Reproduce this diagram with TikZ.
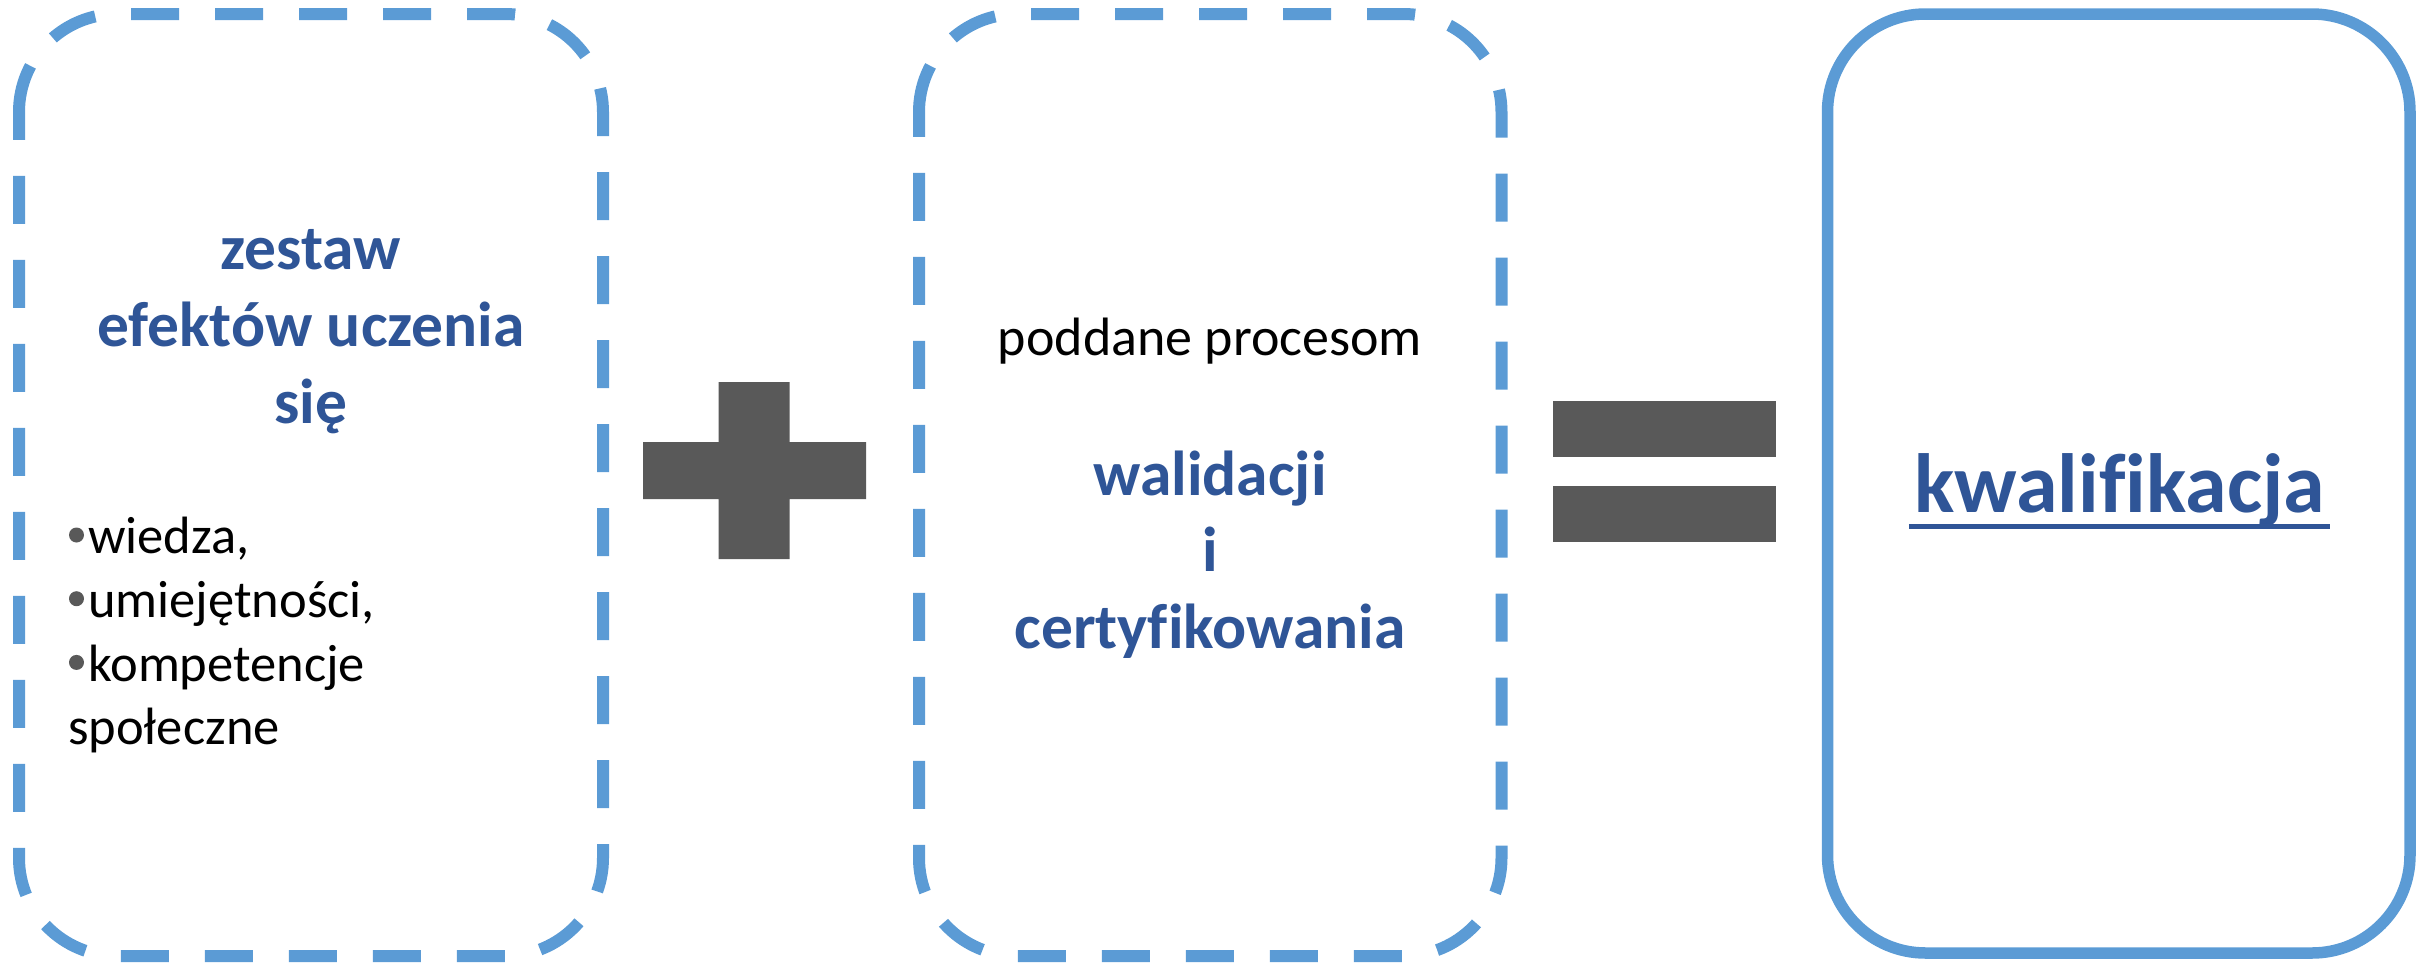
\documentclass[tikz,border=0pt]{standalone}
\usepackage{fontspec}
\setmainfont{Carlito}[Ligatures=NoCommon]
\definecolor{boxblue}{HTML}{5B9BD5}
\definecolor{tblue}{HTML}{2F5597}
\definecolor{signgray}{HTML}{595959}
\begin{document}
\begin{tikzpicture}[x=1pt,y=-1pt,
  dbox/.style={draw=boxblue, line width=12pt, dash pattern=on 48pt off 36pt, dash phase=0pt},
  sbox/.style={draw=boxblue, line width=11.5pt},
  ttl/.style={inner sep=0pt, anchor=base, text=tblue, font=\fontsize{63.5}{63.5}\selectfont\bfseries},
  big/.style={inner sep=0pt, anchor=base, text=tblue, font=\fontsize{84}{84}\selectfont\bfseries},
  lst/.style={inner sep=0pt, anchor=base west, text=black, font=\fontsize{52.5}{52.5}\selectfont},
  plain/.style={inner sep=0pt, anchor=base, text=black, font=\fontsize{54}{54}\selectfont},
  sign/.style={fill=signgray},
  bul/.style={fill=signgray},
  rc/.style={radius=98pt}]
\useasboundingbox (0,0) rectangle (2418,962);
% boxes
\draw[dbox] (19,112) arc[start angle=180,end angle=90,rc]
  -- (505,14) arc[start angle=90,end angle=0,rc]
  -- (603,858) arc[start angle=0,end angle=-90,rc]
  -- (117,956) arc[start angle=-90,end angle=-180,rc] -- cycle;
\draw[dbox] (919,112) arc[start angle=180,end angle=90,rc]
  -- (1403.5,14) arc[start angle=90,end angle=0,rc]
  -- (1501.5,858) arc[start angle=0,end angle=-90,rc]
  -- (1017,956) arc[start angle=-90,end angle=-180,rc] -- cycle;
\draw[sbox] (1827.5,112) arc[start angle=180,end angle=90,rc]
  -- (2312,14) arc[start angle=90,end angle=0,rc]
  -- (2410,855) arc[start angle=0,end angle=-90,rc]
  -- (1925.5,953) arc[start angle=-90,end angle=-180,rc] -- cycle;
% plus
\fill[sign] (718.5,382) -- (789.5,382) -- (789.5,442) -- (866,442) -- (866,499) -- (789.5,499)
  -- (789.5,559) -- (718.5,559) -- (718.5,499) -- (643,499) -- (643,442) -- (718.5,442) -- cycle;
% equals
\fill[sign] (1553,400.5) rectangle (1775.5,456.5);
\fill[sign] (1553,485.5) rectangle (1775.5,542);
% box 1 text
\node[ttl] (t1a) at (311,269.6) {zestaw};
\node[ttl] (t1b) at (311,346.4) {efektów uczenia};
\node[ttl] (t1c) at (311,423.2) {się};
\node[lst] (l1) at (88,553.6) {wiedza,};
\node[lst] (l2) at (88,617.3) {umiejętności,};
\node[lst] (l3) at (88,681) {kompetencje};
\node[lst] (l4) at (68,744.6) {społeczne};
\fill[bul] (76.5,535) circle (7.5pt);
\fill[bul] (76.5,598.7) circle (7.5pt);
\fill[bul] (76.5,662.4) circle (7.5pt);
% box 2 text
\node[plain] (p1) at (1210,355) {poddane procesom};
\node[ttl] (p2) at (1210,495) {walidacji};
\node[ttl] (p3) at (1210,571) {i};
\node[ttl] (p4) at (1210,648.3) {certyfikowania};
% box 3 text
\node[big] (kw) at (2119.5,512.7) {kwalifikacja};
\draw[tblue, line width=5pt] ([xshift=-5pt,yshift=-13.5pt]kw.base west) -- ([xshift=5pt,yshift=-13.5pt]kw.base east);
\end{tikzpicture}
\end{document}
